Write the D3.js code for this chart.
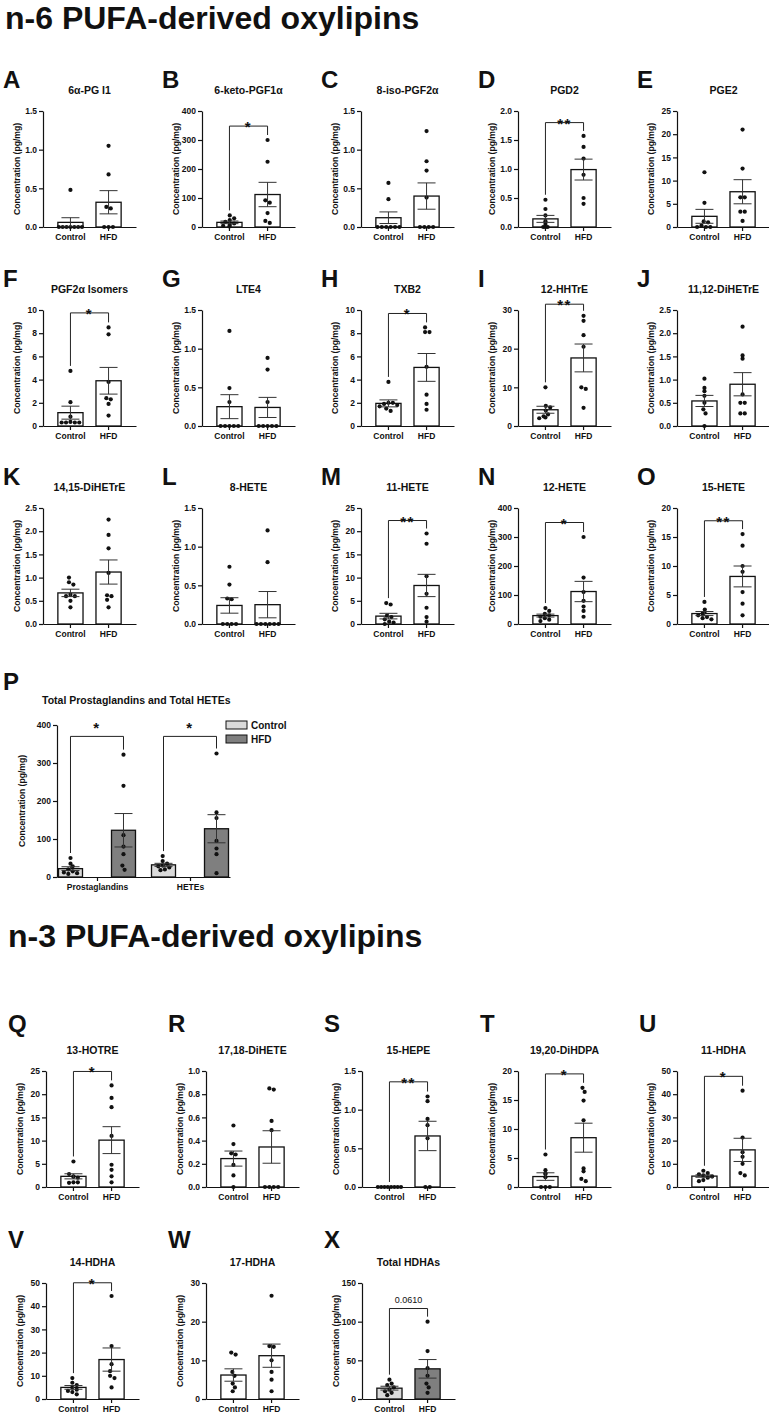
<!DOCTYPE html>
<html>
<head>
<meta charset="utf-8">
<script src="https://cdn.jsdelivr.net/npm/d3@7"></script>
<style>
  body { margin: 0; background: #fff; }
  text { font-family: "Liberation Sans", Arial, sans-serif; font-weight: bold; fill: #111; }
</style>
</head>
<body>
<svg id="fig" width="769" height="1417"></svg>
<script>
// ---- values ----
var groups = ["Control", "HFD"];

var letters = ["A","B","C","D","E","F","G","H","I","J","K","L","M","N","O",
               "Q","R","S","T","U","V","W","X"];
var names = ["6α-PG I1","6-keto-PGF1α","8-iso-PGF2α","PGD2","PGE2",
             "PGF2α Isomers","LTE4","TXB2","12-HHTrE","11,12-DiHETrE",
             "14,15-DiHETrE","8-HETE","11-HETE","12-HETE","15-HETE",
             "13-HOTRE","17,18-DiHETE","15-HEPE","19,20-DiHDPA","11-HDHA",
             "14-HDHA","17-HDHA","Total HDHAs"];
var yMax  = [1.5,400,1.5,2,25, 10,1.5,10,30,2.5, 2.5,1.5,25,400,20, 25,1,1.5,20,50, 50,30,150];
var yStep = [0.5,100,0.5,0.5,5, 2,0.5,2,10,0.5, 0.5,0.5,5,100,5, 5,0.2,0.5,5,10, 10,10,50];

var controlPts = [
  [0.48,0,0,0,0,0,0,0],
  [40,30,24,18,12,7,4,2],
  [0.57,0.36,0,0,0,0,0,0],
  [0.47,0.31,0.2,0.1,0.05,0,0,0],
  [11.8,5.2,1.2,1.0,0.3,0,0,0],
  [4.75,2.05,0.8,0.35,0.3,0.3,0.3,0.3],
  [1.23,0.49,0.31,0,0,0,0,0],
  [3.8,2.0,2.0,1.9,1.8,1.7,1.5,1.3],
  [10,5.2,4.8,4.0,3.0,2.5,2.2,2.0],
  [1.02,0.82,0.75,0.65,0.5,0.36,0.27,0],
  [1.0,0.9,0.85,0.63,0.6,0.6,0.5,0.36],
  [0.74,0.51,0.33,0.32,0,0,0,0],
  [4.5,4.2,1.8,1.5,1.0,0.5,0.3,0],
  [55,45,35,30,25,20,15,10],
  [3.8,2.5,2.0,1.8,1.5,1.2,1.0,0.8],
  [5.5,2.8,2.3,2.2,2.0,1.0,1.0,0.9],
  [0.53,0.37,0.29,0.28,0.19,0.1,0],
  [0,0,0,0,0,0,0,0],
  [5.6,2.9,2.3,2.3,1.7,0,0,0],
  [7,6,5.5,5,4.5,4,3,2.5],
  [9,7,6,5,4,3.5,3,2],
  [12,11.5,7,6,4,3,2],
  [25,20,18,15,12,10,8,5]
];
var hfdPts = [
  [1.05,0.68,0.26,0.24,0,0,0],
  [300,225,92,84,48,21,14],
  [1.24,0.85,0.73,0.38,0,0,0,0],
  [1.57,1.38,1.18,0.9,0.5,0.4],
  [21,12.6,6.4,6.4,3.3,3.3,1.3],
  [8.5,7.9,3.8,2.4,2.3,1.9,0.9],
  [0.88,0.73,0.31,0,0,0,0,0],
  [8.5,8.1,8.1,5.1,2.7,1.9,1.4],
  [28.5,27.2,23.5,20.5,10,9.6,4.7],
  [2.14,1.52,1.45,0.68,0.5,0.5,0.27,0.27],
  [2.25,1.92,1.63,1.1,0.62,0.6,0.52,0.36],
  [1.21,0.8,0,0,0,0,0,0],
  [19.5,17.3,10.3,6.5,3.5,1.5,0.5],
  [300,160,110,80,60,45,25],
  [15.5,13.5,10,9,5.5,3.5,1.5],
  [21.9,19.2,17.2,11,4.8,3.7,2.3,1.0],
  [0.85,0.84,0.57,0.49,0,0,0,0],
  [1.17,1.11,0.88,0.8,0.63,0,0],
  [17.1,16.4,14.9,11.5,3.2,2.7,1.4,1.0],
  [41.5,21.3,15,13,10,6,5],
  [44.4,22.8,15,12,10,9,5],
  [26.7,13.7,13.5,10,7,5,2],
  [100,62,40,30,20,15,8]
];
var means = [[0.06,0.32],[16,112],[0.12,0.40],[0.14,0.99],[2.3,7.6],
             [1.15,3.9],[0.25,0.24],[1.95,5.05],[4.2,17.6],[0.54,0.9],
             [0.67,1.12],[0.24,0.25],[1.7,8.3],[29,112],[1.8,8.2],
             [2.3,10.1],[0.245,0.345],[0,0.66],[1.8,8.5],[4.7,16],
             [5,17],[6.2,11.2],[14,39]];
var sems = [[0.06,0.15],[4.5,42],[0.075,0.17],[0.06,0.18],[1.5,2.6],
            [0.56,1.15],[0.155,0.13],[0.3,1.2],[0.9,3.6],[0.12,0.25],
            [0.08,0.26],[0.1,0.17],[0.6,2.4],[5,35],[0.35,1.8],
            [0.55,2.9],[0.065,0.14],[0,0.19],[0.65,2.5],[0.5,5],
            [0.8,5],[1.6,3],[2.5,12]];
var sigText = ["","*","","**","", "*","","*","**","", "","","**","*","**",
               "*","","**","*","*", "*","","0.0610"];
var sigAt = [null,348,null,1.8,null, 9.75,null,9.7,31.5,null, null,null,22.3,350,17.8,
             24.9,null,1.36,19.5,47.7, 50.1,null,117];

// panel P
var pCategories = ["Prostaglandins", "HETEs"];
var pControlPts = [[50,35,28,20,15,12,10,8],[55,42,35,30,28,25,20,18]];
var pHfdPts = [[322,240,110,80,60,30,19],[325,170,155,95,75,60,10]];
var pMeans = [[22,123],[32,127]];
var pSems = [[5,44],[4,37]];
var pSig = ["*","*"];
var pSigAt = [370, 370];

// ---- layout ----
var svg = d3.select("#fig");
var plotW = 93, plotH = 116;
var lightFill = "#dadada", darkFill = "#7f7f7f";

svg.append("text").attr("x", 5).attr("y", 29).style("font-size", "32px").text("n-6 PUFA-derived oxylipins");
svg.append("text").attr("x", 8).attr("y", 947).style("font-size", "32px").text("n-3 PUFA-derived oxylipins");

// beeswarm-ish layout, then every touching cluster is re-centred
function swarm(vals, y, maxW) {
  var d = 4.4;
  var pts = vals.map(function (v, i) { return {py: y(v), i: i, dx: 0}; })
    .sort(function (a, b) { return a.py - b.py; });
  var placed = [];
  pts.forEach(function (p) {
    var cands = [0];
    for (var s = 1; s < 12; s++) { cands.push(s * d / 2, -s * d / 2); }
    for (var c = 0; c < cands.length; c++) {
      var ok = placed.every(function (q) {
        var ddx = q.dx - cands[c], ddy = q.py - p.py;
        return ddx * ddx + ddy * ddy >= d * d * 0.95;
      });
      if (ok) { p.dx = cands[c]; break; }
    }
    placed.push(p);
  });
  var seen = {};
  placed.forEach(function (p, a) {
    if (seen[a]) return;
    var stack = [a], cl = [];
    seen[a] = true;
    while (stack.length) {
      var k = stack.pop(); cl.push(placed[k]);
      placed.forEach(function (q, b) {
        if (seen[b]) return;
        var ddx = q.dx - placed[k].dx, ddy = q.py - placed[k].py;
        if (ddx * ddx + ddy * ddy < d * d * 1.3) { seen[b] = true; stack.push(b); }
      });
    }
    var m = d3.mean(cl, function (q) { return q.dx; });
    var ext = d3.max(cl, function (q) { return Math.abs(q.dx - m); }) || 1;
    var sc = Math.min(1, (maxW / 2) / ext);
    cl.forEach(function (q) { q.dx = (q.dx - m) * sc; });
  });
  var out = vals.map(function () { return 0; });
  placed.forEach(function (p) { out[p.i] = p.dx; });
  return out;
}

function styleAxis(g) {
  g.selectAll("path,line").attr("stroke", "#111").attr("stroke-width", 1.2);
  g.selectAll("text").attr("font-size", null).style("font-size", "8.5px")
    .attr("font-family", null);
}

function drawGroup(g, bw, y, cx, vals, mean, sem, fill) {
  g.append("rect").attr("x", cx - bw / 2).attr("y", y(mean))
    .attr("width", bw).attr("height", y(0) - y(mean))
    .attr("fill", fill).attr("stroke", "#111").attr("stroke-width", 1.3);
  var offs = swarm(vals, y, bw - 2);
  g.selectAll(null).data(vals).enter().append("circle")
    .attr("cx", function (d, i) { return cx + offs[i]; })
    .attr("cy", function (d) { return y(d); })
    .attr("r", 2.1).attr("fill", "#111");
  if (sem > 0) {
    var lo = y(Math.max(0, mean - sem)), hi = y(mean + sem);
    g.append("path")
      .attr("d", "M" + cx + "," + lo + "V" + hi + "M" + (cx - 9) + "," + hi + "H" + (cx + 9) +
                 "M" + (cx - 9) + "," + lo + "H" + (cx + 9))
      .attr("stroke", "#333").attr("stroke-width", 1).attr("fill", "none");
  }
}

function drawBracket(g, y, xl, xr, ctl, hfd, mL, mR, level, label, starDy) {
  var yb = y(level);
  var lb = Math.min(y(Math.max(d3.max(ctl), mL)) - 5, y(0) - 4);
  var rb = Math.min(y(Math.max(d3.max(hfd), mR)) - 5, y(0) - 4);
  lb = Math.max(lb, yb + 4); rb = Math.max(rb, yb + 4);
  g.append("path").attr("d", "M" + xl + "," + lb + "V" + yb + "H" + xr + "V" + rb)
    .attr("stroke", "#222").attr("stroke-width", 1).attr("fill", "none");
  if (label.indexOf("*") === 0) {
    g.append("text").attr("x", (xl + xr) / 2).attr("y", yb + (starDy === undefined ? 6 : starDy))
      .attr("text-anchor", "middle").style("font-size", "15px")
      .style("letter-spacing", "1.5px").text(label);
  } else {
    g.append("text").attr("x", (xl + xr) / 2).attr("y", yb - 6)
      .attr("text-anchor", "middle").style("font-size", "9px")
      .style("font-weight", "normal").text(label);
  }
}

function drawPanel(i, x0, y0, letterDy, letterDx, filled) {
  var g = svg.append("g");
  var y = d3.scaleLinear().domain([0, yMax[i]]).range([y0 + plotH, y0]);
  var x = d3.scaleBand().domain(groups).range([x0, x0 + plotW])
    .paddingInner(0.34).paddingOuter(0.39);
  var ticks = d3.range(0, yMax[i] + yStep[i] / 2, yStep[i]);
  var fmt = yStep[i] < 1 ? d3.format(".1f") : d3.format("d");

  g.append("text").attr("x", x0 + letterDx).attr("y", y0 + letterDy)
    .style("font-size", "24px").text(letters[i]);
  g.append("text").attr("x", x0 + plotW / 2).attr("y", y0 - 17)
    .attr("text-anchor", "middle").style("font-size", "10.5px").text(names[i]);
  g.append("text")
    .attr("transform", "translate(" + (x0 - 26) + "," + (y0 + plotH / 2) + ") rotate(-90)")
    .attr("text-anchor", "middle").attr("dy", "0.35em").style("font-size", "8.6px")
    .text("Concentration (pg/mg)");

  var cx = function (k) { return x(groups[k]) + x.bandwidth() / 2; };
  var fills = filled ? [lightFill, darkFill] : ["#fff", "#fff"];
  drawGroup(g, x.bandwidth(), y, cx(0), controlPts[i], means[i][0], sems[i][0], fills[0]);
  drawGroup(g, x.bandwidth(), y, cx(1), hfdPts[i], means[i][1], sems[i][1], fills[1]);

  g.append("g").attr("transform", "translate(" + x0 + ",0)")
    .call(d3.axisLeft(y).tickValues(ticks).tickFormat(fmt).tickSize(4).tickSizeOuter(0).tickPadding(2))
    .call(styleAxis);
  g.append("g").attr("transform", "translate(0," + (y0 + plotH) + ")")
    .call(d3.axisBottom(x).tickSize(4).tickSizeOuter(0).tickPadding(3))
    .call(styleAxis);

  if (sigAt[i] !== null) {
    drawBracket(g, y, cx(0), cx(1), controlPts[i], hfdPts[i],
      means[i][0] + sems[i][0], means[i][1] + sems[i][1], sigAt[i], sigText[i]);
  }
}

var colN6 = [43, 202, 361, 518, 677];
var rowN6 = [111, 310, 508];
var colN3 = [46, 206, 362, 518, 677];
var rowN3 = [1071, 1283];

for (var i = 0; i < 15; i++) {
  drawPanel(i, colN6[i % 5], rowN6[Math.floor(i / 5)], -23, -40, false);
}
for (var j = 0; j < 8; j++) {
  var r = Math.floor(j / 5);
  drawPanel(15 + j, colN3[j % 5], rowN3[r], r === 0 ? -39 : -35, -38, j === 7);
}

// ---- panel P ----
(function () {
  var g = svg.append("g");
  var x0 = 57, y0 = 725, h = 152, w = 173;
  var y = d3.scaleLinear().domain([0, 400]).range([y0 + h, y0]);
  var x = d3.scalePoint().domain(pCategories).range([x0, x0 + w]).padding(0.43);
  var half = 26.5, bw = 24;

  g.append("text").attr("x", 3).attr("y", 690).style("font-size", "24px").text("P");
  g.append("text").attr("x", 42).attr("y", 704).style("font-size", "10.5px")
    .text("Total Prostaglandins and Total HETEs");
  g.append("text")
    .attr("transform", "translate(" + (x0 - 35) + "," + (y0 + h / 2) + ") rotate(-90)")
    .attr("text-anchor", "middle").attr("dy", "0.35em").style("font-size", "8.6px")
    .text("Concentration (pg/mg)");

  pCategories.forEach(function (c, k) {
    var cc = x(c) - half, ch = x(c) + half;
    drawGroup(g, bw, y, cc, pControlPts[k], pMeans[k][0], pSems[k][0], lightFill);
    drawGroup(g, bw, y, ch, pHfdPts[k], pMeans[k][1], pSems[k][1], darkFill);
    drawBracket(g, y, cc, ch, pControlPts[k], pHfdPts[k],
      pMeans[k][0] + pSems[k][0], pMeans[k][1] + pSems[k][1], pSigAt[k], pSig[k], -3);
  });

  g.append("g").attr("transform", "translate(" + x0 + ",0)")
    .call(d3.axisLeft(y).tickValues(d3.range(0, 401, 100)).tickSize(4).tickSizeOuter(0).tickPadding(2))
    .call(styleAxis);
  g.append("g").attr("transform", "translate(0," + (y0 + h) + ")")
    .call(d3.axisBottom(x).tickSize(4).tickSizeOuter(0).tickPadding(3))
    .call(styleAxis);

  var leg = g.append("g").attr("transform", "translate(226,721)");
  groups.forEach(function (name, k) {
    leg.append("rect").attr("x", 0).attr("y", k * 14).attr("width", 21).attr("height", 8)
      .attr("fill", k === 0 ? lightFill : darkFill).attr("stroke", "#111").attr("stroke-width", 1);
    leg.append("text").attr("x", 25).attr("y", k * 14 + 8).style("font-size", "10px").text(name);
  });
})();
</script>
</body>
</html>
